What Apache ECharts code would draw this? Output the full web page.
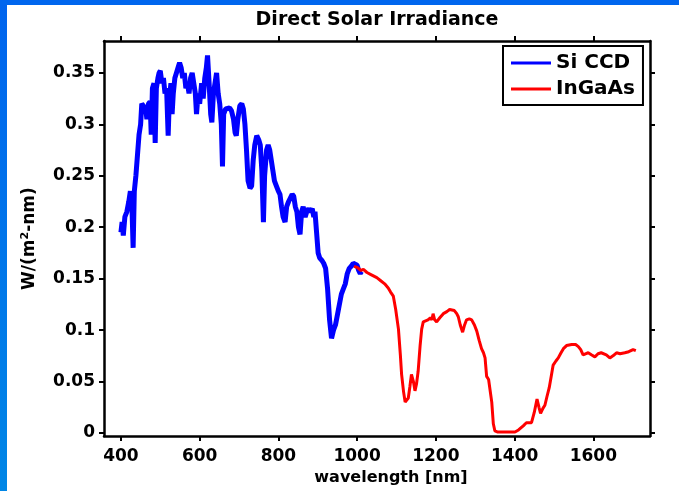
<!DOCTYPE html>
<html>
<head>
<meta charset="utf-8">
<script src="https://cdn.jsdelivr.net/npm/echarts@6/dist/echarts.min.js"></script>
<style>html,body{margin:0;padding:0;background:#fff}#c{width:679px;height:491px}</style>
</head>
<body>
<div id="c"></div>
<script>
const siWavelength = [400,403,406,410,415,420,424,428,431,434,438,442,446,450,453,458,463,466,470,474,477,480,484,487,490,494,497,500,504,508,512,516,520,523,527,530,533,537,541,545,549,553,557,561,565,569,573,577,581,585,589,592,596,600,605,609,613,617,620,624,628,631,635,639,643,647,651,655,658,661,666,671,676,681,686,690,693,697,702,707,711,715,719,723,728,732,736,740,745,750,754,758,762,765,770,774,778,782,786,790,795,800,804,808,812,817,821,826,830,835,839,843,847,851,855,859,863,868,872,877,881,886,890,893,897,901,905,910,915,920,925,930,935,940,945,950,955,960,965,970,975,980,985,990,995,1000,1004,1008,1011];
const siIrradiance = [0.195,0.205,0.192,0.21,0.215,0.225,0.235,0.22,0.18,0.235,0.25,0.27,0.29,0.3,0.32,0.32,0.315,0.305,0.32,0.322,0.29,0.335,0.34,0.282,0.335,0.345,0.35,0.352,0.34,0.345,0.33,0.335,0.289,0.325,0.34,0.31,0.33,0.345,0.35,0.355,0.36,0.355,0.345,0.35,0.335,0.34,0.33,0.345,0.35,0.35,0.33,0.31,0.33,0.32,0.34,0.325,0.345,0.355,0.367,0.34,0.31,0.302,0.33,0.34,0.35,0.33,0.32,0.3,0.259,0.31,0.315,0.315,0.316,0.313,0.305,0.292,0.289,0.305,0.318,0.32,0.315,0.3,0.275,0.245,0.238,0.24,0.265,0.28,0.289,0.285,0.28,0.255,0.205,0.25,0.275,0.28,0.275,0.265,0.255,0.245,0.24,0.235,0.232,0.22,0.21,0.205,0.22,0.225,0.225,0.232,0.23,0.22,0.215,0.2,0.193,0.215,0.22,0.21,0.215,0.218,0.215,0.218,0.21,0.215,0.195,0.175,0.17,0.168,0.165,0.16,0.14,0.11,0.092,0.1,0.105,0.115,0.125,0.135,0.14,0.145,0.155,0.16,0.162,0.165,0.166,0.163,0.158,0.155,0.157];
const ingaasWavelength = [992,1000,1010,1016,1025,1035,1050,1060,1070,1079,1085,1092,1098,1105,1110,1113,1118,1122,1126,1130,1134,1138,1143,1147,1151,1155,1160,1164,1168,1172,1180,1186,1190,1193,1197,1202,1210,1219,1228,1235,1240,1247,1253,1257,1262,1268,1273,1278,1285,1291,1298,1304,1310,1316,1321,1325,1329,1334,1338,1342,1346,1350,1356,1370,1385,1401,1410,1422,1430,1443,1450,1457,1462,1466,1472,1477,1482,1488,1493,1498,1505,1511,1518,1524,1532,1545,1555,1562,1568,1574,1580,1587,1595,1604,1612,1620,1625,1633,1642,1650,1659,1668,1680,1690,1701,1708];
const ingaasIrradiance = [0.162,0.161,0.158,0.159,0.156,0.154,0.151,0.148,0.145,0.141,0.137,0.133,0.12,0.101,0.075,0.057,0.04,0.03,0.03,0.034,0.045,0.057,0.05,0.041,0.048,0.06,0.085,0.101,0.108,0.108,0.11,0.112,0.11,0.116,0.11,0.108,0.112,0.116,0.118,0.12,0.121,0.119,0.116,0.113,0.105,0.098,0.105,0.11,0.111,0.11,0.105,0.099,0.09,0.082,0.078,0.073,0.055,0.052,0.051,0.03,0.009,0.002,0.001,0.001,0.001,0.001,0.003,0.007,0.01,0.01,0.02,0.033,0.025,0.019,0.024,0.027,0.035,0.044,0.055,0.066,0.07,0.073,0.078,0.082,0.085,0.086,0.086,0.084,0.081,0.076,0.077,0.078,0.076,0.074,0.077,0.078,0.078,0.076,0.073,0.075,0.078,0.077,0.078,0.079,0.081,0.08];
const xTicks = [400,600,800,1000,1200,1400,1600];
const yTicks = [0,0.05,0.1,0.15,0.2,0.25,0.3,0.35];
const seriesNames = ['Si CCD','InGaAs'];

const FONT = 'DejaVu Sans';
const pair = (xs, ys) => xs.map((x, i) => [x, ys[i]]);
const axisLine = {show: true, onZero: false, lineStyle: {color: '#000', width: 2.5}};
const tick = (vals) => ({show: true, inside: false, length: 5, customValues: vals, lineStyle: {color: '#000', width: 2}});

const chart = echarts.init(document.getElementById('c'), null, {renderer: 'canvas'});
chart.setOption({
  animation: false,
  backgroundColor: '#fff',
  graphic: [
    {type: 'rect', shape: {x: 0, y: 0, width: 7, height: 491}, style: {fill: new echarts.graphic.LinearGradient(0, 0, 0, 1, [{offset: 0, color: '#0064EE'}, {offset: 1, color: '#0086E6'}])}, z: 100},
    {type: 'rect', shape: {x: 0, y: 0, width: 679, height: 5}, style: {fill: '#0066EE'}, z: 100}
  ],
  title: {
    text: 'Direct Solar Irradiance', left: 377, top: 11, textAlign: 'center', padding: 0,
    textStyle: {fontFamily: FONT, fontWeight: 'bold', fontSize: 19, color: '#000'}
  },
  legend: {
    orient: 'vertical', left: 503, top: 46, data: seriesNames,
    borderColor: '#000', borderWidth: 2, padding: [7, 8, 6, 8], itemGap: 6,
    itemWidth: 40, itemHeight: 3, icon: 'rect',
    textStyle: {fontFamily: FONT, fontWeight: 'bold', fontSize: 20, color: '#000', lineHeight: 19}
  },
  grid: {left: 104, top: 41, width: 546, height: 401, containLabel: false},
  xAxis: [
    {type: 'value', min: 357, max: 1744, position: 'bottom',
     name: 'wavelength [nm]', nameLocation: 'middle', nameGap: 30,
     nameTextStyle: {fontFamily: FONT, fontWeight: 'bold', fontSize: 16, color: '#000', padding: [0, 0, 0, 28]},
     axisLine, axisTick: tick(xTicks), splitLine: {show: false},
     axisLabel: {customValues: xTicks, formatter: (v) => String(v), margin: 12, fontFamily: FONT, fontWeight: 'bold', fontSize: 17, color: '#000'}},
    {type: 'value', min: 357, max: 1744, position: 'top',
     axisLine, axisTick: tick(xTicks), splitLine: {show: false}, axisLabel: {show: false}}
  ],
  yAxis: [
    {type: 'value', min: -0.003, max: 0.381, position: 'left',
     name: 'W/(m{sup|2}-nm)', nameLocation: 'middle', nameGap: 64, nameRotate: 90,
     nameTextStyle: {fontFamily: FONT, fontWeight: 'bold', fontSize: 17, color: '#000',
       rich: {sup: {fontFamily: FONT, fontSize: 11, color: '#000', padding: [0, 0, 9, 0]}}},
     axisLine, axisTick: tick(yTicks), splitLine: {show: false},
     axisLabel: {customValues: yTicks, formatter: (v) => String(v), margin: 9, fontFamily: FONT, fontWeight: 'bold', fontSize: 17, color: '#000'}},
    {type: 'value', min: -0.003, max: 0.381, position: 'right',
     axisLine, axisTick: tick(yTicks), splitLine: {show: false}, axisLabel: {show: false}}
  ],
  series: [
    {name: seriesNames[0], type: 'line', data: pair(siWavelength, siIrradiance), showSymbol: false,
     color: '#0000FF', lineStyle: {color: '#0000FF', width: 5}, xAxisIndex: 0, yAxisIndex: 0},
    {name: seriesNames[1], type: 'line', data: pair(ingaasWavelength, ingaasIrradiance), showSymbol: false,
     color: '#FF0000', lineStyle: {color: '#FF0000', width: 3}, xAxisIndex: 0, yAxisIndex: 0}
  ]
});
</script>
</body>
</html>
